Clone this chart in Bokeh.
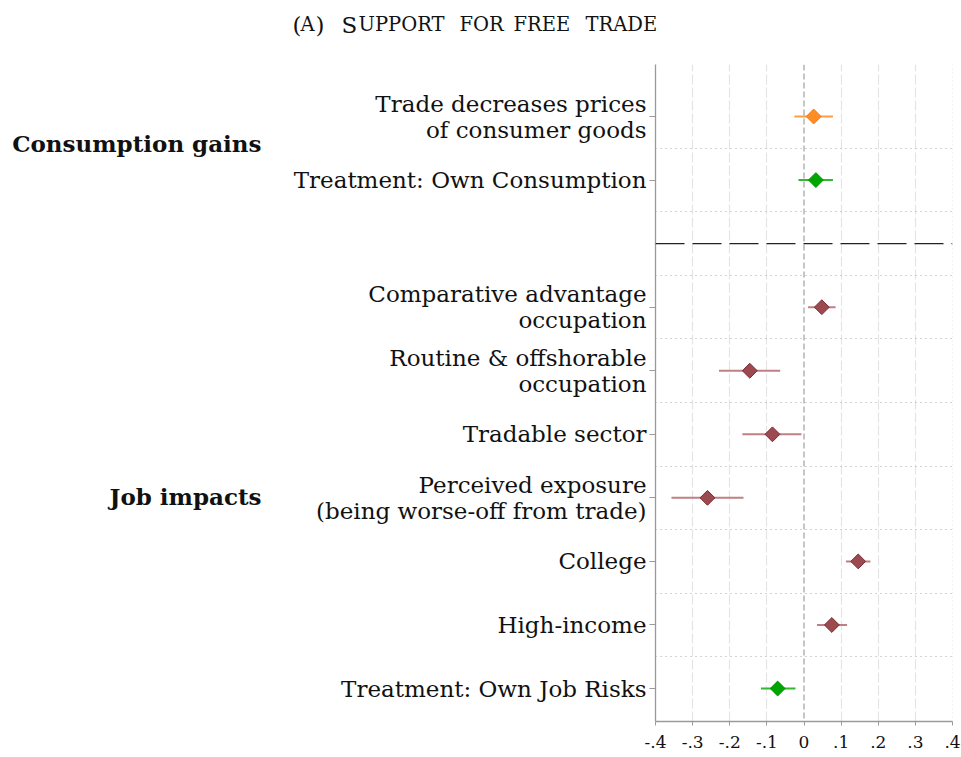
from bokeh.plotting import figure
from bokeh.layouts import column, row
from bokeh.models import Range1d, FixedTicker, Span, ColumnDataSource
from bokeh.core.properties import value
from bokeh.embed import file_html
from bokeh.resources import INLINE
import numpy as np

# ---------------- data ----------------
labels = [
    "Trade decreases prices\nof consumer goods",
    "Treatment: Own Consumption",
    "Comparative advantage\noccupation",
    "Routine & offshorable\noccupation",
    "Tradable sector",
    "Perceived exposure\n(being worse-off from trade)",
    "College",
    "High-income",
    "Treatment: Own Job Risks",
]
rows = [0, 1, 3, 4, 5, 6, 7, 8, 9]          # row index from the top (2 = separator)
estimate = [0.026, 0.032, 0.048, -0.146, -0.085, -0.260, 0.146, 0.075, -0.071]
ci_low = [-0.026, -0.015, 0.011, -0.229, -0.166, -0.357, 0.113, 0.035, -0.116]
ci_high = [0.078, 0.078, 0.085, -0.064, -0.007, -0.163, 0.179, 0.116, -0.023]
kind = ["belief", "treatment", "char", "char", "char", "char", "char", "char", "treatment"]
x_ticks = [-0.4, -0.3, -0.2, -0.1, 0, 0.1, 0.2, 0.3, 0.4]
x_tick_labels = ["-.4", "-.3", "-.2", "-.1", "0", ".1", ".2", ".3", ".4"]
groups = ["Consumption gains", "Job impacts"]
separator_row = 2
n_rows = 10

marker_fill = {"belief": "#ff8c26", "treatment": "#00a600", "char": "#9c4a50"}
marker_line = {"belief": "#f07a10", "treatment": "#009400", "char": "#7a2c33"}
bar_color = {"belief": "#ff9c45", "treatment": "#33b833", "char": "#c07f85"}

SERIF = "DejaVu Serif"
TITLE_H = 40
LEFT_W = 280
Y0_PX, Y_SCALE = 116.0, 63.56


def px_y(py):
    # page pixel row -> value on the shared y scale (layout helper)
    return (n_rows - 1) - (py - Y0_PX) / Y_SCALE


yvals = [(n_rows - 1) - r for r in rows]
y_range = Range1d(px_y(721), px_y(64))

# ---------------- title strip (small capitals) ----------------
title_src = ColumnDataSource(dict(
    x=[292, 300, 315, 341, 358, 459, 513, 585],
    t=["(", "A", ")", "S", "UPPORT", "FOR", "FREE", "TRADE"],
    fs=["23px", "19.5px", "23px", "23px", "19.5px", "19.5px", "19.5px", "19.5px"],
))
tf = figure(width=961, height=TITLE_H, output_backend="svg", toolbar_location=None,
            x_range=Range1d(0, 961), y_range=Range1d(TITLE_H, 0),
            min_border=0, title=None)
tf.axis.visible = False
tf.grid.visible = False
tf.outline_line_color = None
tf.text(x="x", y=24, text="t", source=title_src, text_font=value(SERIF),
        text_font_size="fs", text_align="left", text_baseline="alphabetic",
        text_color="#111111")

# ---------------- group labels strip ----------------
gf = figure(width=LEFT_W, height=757 - TITLE_H, output_backend="svg", toolbar_location=None,
            x_range=Range1d(0, LEFT_W), y_range=y_range,
            min_border_left=0, min_border_right=0,
            min_border_top=64 - TITLE_H, min_border_bottom=36, title=None)
gf.axis.visible = False
gf.grid.visible = False
gf.outline_line_color = None
gf.text(x=[261, 261], y=[px_y(143.0), px_y(495.5)], text=groups,
        text_font=value(SERIF), text_font_size="23px", text_font_style="bold",
        text_align="right", text_baseline="alphabetic", text_color="#111111")

# ---------------- main panel ----------------
src = ColumnDataSource(dict(
    y=yvals, est=estimate, lo=ci_low, hi=ci_high,
    fill=[marker_fill[k] for k in kind],
    line=[marker_line[k] for k in kind],
    bar=[bar_color[k] for k in kind],
))

p = figure(width=961 - LEFT_W, height=757 - TITLE_H, output_backend="svg",
           toolbar_location=None, x_range=Range1d(-0.4, 0.4), y_range=y_range,
           min_border_left=655 - LEFT_W, min_border_right=9,
           min_border_top=64 - TITLE_H, min_border_bottom=36, title=None)
p.outline_line_color = None
p.background_fill_color = "white"

p.xgrid.ticker = FixedTicker(ticks=[-0.3, -0.2, -0.1, 0.1, 0.2, 0.3])
p.xgrid.grid_line_color = "#e4e4e4"
p.xgrid.grid_line_width = 1.2
p.xgrid.grid_line_dash = "10 3"
p.ygrid.ticker = FixedTicker(ticks=[i + 0.5 for i in range(n_rows - 1)])
p.ygrid.grid_line_color = "#a8a8a8"
p.ygrid.grid_line_width = 1
p.ygrid.grid_line_dash = "1 4"

p.add_layout(Span(location=0.4, dimension="height", line_color="#cfcfcf",
                  line_dash="1 3", line_width=1))
p.add_layout(Span(location=0, dimension="height", line_color="#8c8c8c",
                  line_dash="6 3", line_width=1))
p.add_layout(Span(location=(n_rows - 1) - separator_row, dimension="width",
                  line_color="#222222", line_dash="29 8", line_width=1.3))

p.segment(x0="lo", x1="hi", y0="y", y1="y", source=src, line_color="bar", line_width=2)
p.scatter(x="est", y="y", source=src, marker="square", angle=np.pi / 4, size=10.5,
          fill_color="fill", line_color="line", line_width=1)

xa = p.xaxis[0]
xa.ticker = FixedTicker(ticks=x_ticks)
xa.major_label_overrides = {t: l for t, l in zip(x_ticks, x_tick_labels)}
xa.axis_line_color = "#9a9a9a"
xa.axis_line_width = 1.3
xa.major_tick_line_color = "#9a9a9a"
xa.major_tick_out = 4
xa.major_tick_in = 0
xa.minor_tick_line_color = None
xa.major_label_standoff = 10
xa.major_label_text_font = SERIF
xa.major_label_text_font_size = "17px"
xa.major_label_text_color = "#111111"

ya = p.yaxis[0]
ya.ticker = FixedTicker(ticks=yvals)
ya.major_label_overrides = {y: l for y, l in zip(yvals, labels)}
ya.axis_line_color = "#9a9a9a"
ya.axis_line_width = 1.3
ya.major_tick_line_color = "#9a9a9a"
ya.major_tick_out = 6
ya.major_tick_in = 0
ya.minor_tick_line_color = None
ya.major_label_standoff = 3
ya.major_label_text_font = SERIF
ya.major_label_text_font_size = "23px"
ya.major_label_text_color = "#111111"
ya.major_label_text_line_height = 1.0

layout = column(tf, row(gf, p, spacing=0), spacing=0)
open("out.html", "w").write(file_html(layout, INLINE))
